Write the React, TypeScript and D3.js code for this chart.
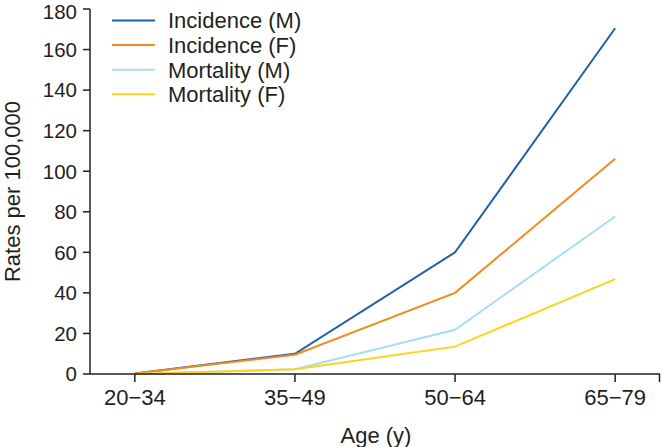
import React from "react";
import * as d3 from "d3";

const categories = ["20−34", "35−49", "50−64", "65−79"];
const incidenceM = [0.3, 10, 60, 170.5];
const incidenceF = [0.3, 9.5, 40, 106.2];
const mortalityM = [0, 2.3, 21.8, 77.7];
const mortalityF = [0, 2.3, 13.5, 46.8];
const yTicks = [0, 20, 40, 60, 80, 100, 120, 140, 160, 180];

const seriesNames = ["Incidence (M)", "Incidence (F)", "Mortality (M)", "Mortality (F)"];
const seriesColors = ["#1f5fad", "#f28a1e", "#a8dcf4", "#ffd21c"];

const W = 661;
const H = 447;
const axisColor = "#231f20";
const font = "Liberation Sans, Arial, Helvetica, sans-serif";

export default function App() {
  const x = d3.scalePoint<string>().domain(categories).range([90, 660]).padding(0.28);
  const y = d3.scaleLinear().domain([0, 180]).range([374, 9]);
  const line = d3
    .line<number>()
    .x((_, i) => x(categories[i]) as number)
    .y((d) => y(d));
  const series = [incidenceM, incidenceF, mortalityM, mortalityF];

  return (
    <svg
      width={W}
      height={H}
      style={{ position: "absolute", left: 0, top: 0, background: "#fff" }}
      fontFamily={font}
    >
      {series.map((s, i) => (
        <path key={i} d={line(s) || ""} fill="none" stroke={seriesColors[i]} strokeWidth={2} />
      ))}
      {/* y axis */}
      <line x1={90} x2={90} y1={y(180)} y2={y(0)} stroke={axisColor} strokeWidth={1.5} />
      {yTicks.map((t) => (
        <g key={t}>
          <line x1={83} x2={90} y1={y(t)} y2={y(t)} stroke={axisColor} strokeWidth={1.5} />
          <text x={77} y={Math.max(y(t), 11.5)} dy="0.36em" textAnchor="end" fontSize={20.5} fill={axisColor}>
            {t}
          </text>
        </g>
      ))}
      {/* x axis */}
      <line x1={90} x2={660} y1={y(0)} y2={y(0)} stroke={axisColor} strokeWidth={1.5} />
      {categories.map((c) => (
        <g key={c}>
          <line x1={x(c)} x2={x(c)} y1={y(0)} y2={y(0) + 8} stroke={axisColor} strokeWidth={1.5} />
          <text x={x(c)} y={405} textAnchor="middle" fontSize={22} fill={axisColor}>
            {c}
          </text>
        </g>
      ))}
      <line x1={659.5} x2={659.5} y1={y(0)} y2={y(0) + 8} stroke={axisColor} strokeWidth={1.5} />
      <text x={376} y={443} textAnchor="middle" fontSize={22} fill={axisColor}>
        Age (y)
      </text>
      <text
        transform={`translate(20, ${(y(0) + y(180)) / 2}) rotate(-90)`}
        textAnchor="middle"
        fontSize={22}
        fill={axisColor}
      >
        Rates per 100,000
      </text>
      {/* legend */}
      {seriesNames.map((n, i) => (
        <g key={n} transform={`translate(0, ${20.5 + i * 24.6})`}>
          <line x1={112} x2={155} y1={0} y2={0} stroke={seriesColors[i]} strokeWidth={2} />
          <text x={168} y={0} dy="0.36em" fontSize={22} fill={axisColor}>
            {n}
          </text>
        </g>
      ))}
    </svg>
  );
}
